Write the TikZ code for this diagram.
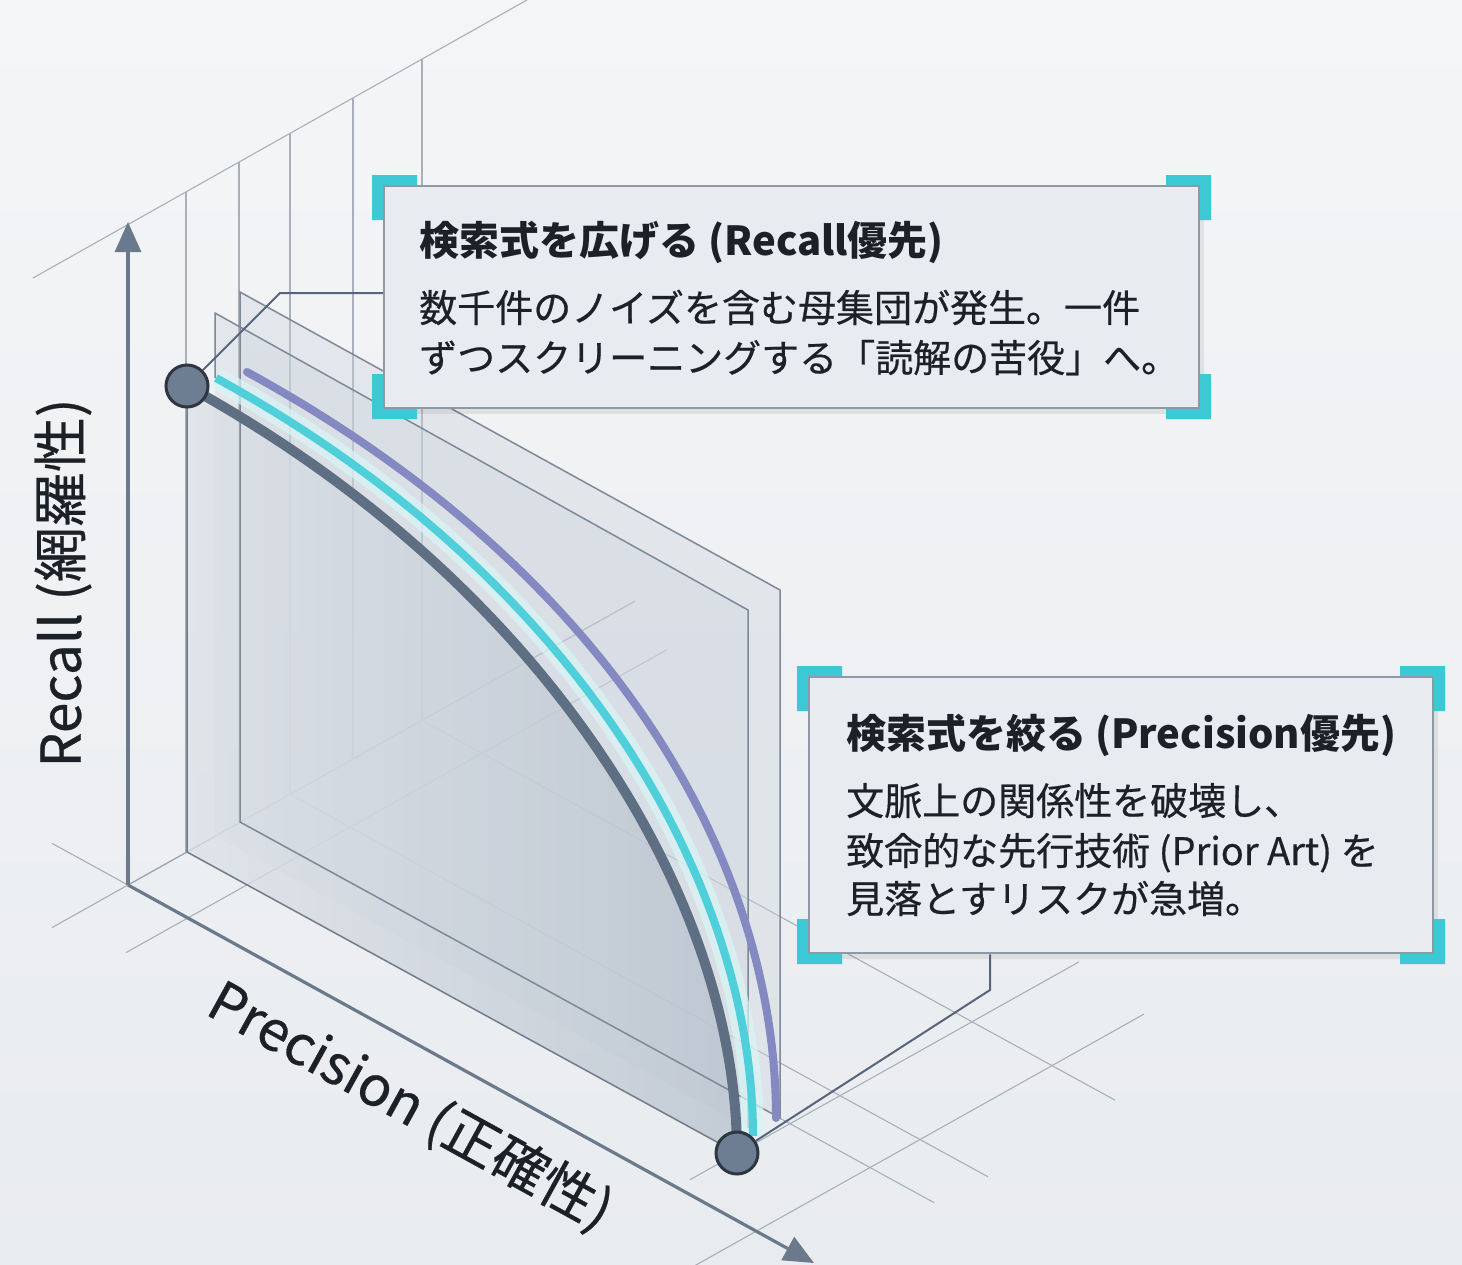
\documentclass[tikz,border=0pt]{standalone}
\usepackage{fontspec}
\setmainfont{Noto Sans CJK JP}
\newfontfamily\medfont[FakeBold=0.5]{Noto Sans CJK JP}
\usetikzlibrary{arrows.meta}
\definecolor{bgA}{HTML}{F4F5F7}
\definecolor{bgB}{HTML}{E9ECEF}
\definecolor{gridc}{HTML}{A7B0BA}
\definecolor{edgec}{HTML}{7D8998}
\definecolor{axisc}{HTML}{6A7A8C}
\definecolor{darkc}{HTML}{5E6F83}
\definecolor{cyanc}{HTML}{4ECFD9}
\definecolor{purc}{HTML}{8489C2}
\definecolor{dotf}{HTML}{6D7E92}
\definecolor{dotd}{HTML}{2D3641}
\definecolor{boxf}{HTML}{E8ECF0}
\definecolor{boxd}{HTML}{8E99A5}
\definecolor{brk}{HTML}{3CC8D5}
\definecolor{txt}{HTML}{1C2127}
\definecolor{leadc}{HTML}{56657A}
\definecolor{panf}{HTML}{CDD5DE}
\definecolor{panA1}{HTML}{DCE1E7}
\definecolor{panA2}{HTML}{B7C1CD}
\newcommand\cornerbr[4]{%
  \fill[brk] (#1,#2) -- ++({45*(#3)},0) -- ++(0,{11*(#4)}) -- ++({-34*(#3)},0)
    -- ++(0,{34*(#4)}) -- ++({-11*(#3)},0) -- cycle;}
\begin{document}
\begin{tikzpicture}[x=1pt,y=-1pt,
  gridline/.style={draw=gridc, line width=1.1pt},
  wallline/.style={draw=gridc!70!edgec, line width=1.3pt},
  paneledge/.style={draw=edgec, line width=1.5pt},
  axisline/.style={draw=axisc, line width=3.2pt, -{Triangle[length=30pt,width=26pt]}},
  dotnode/.style={circle, fill=dotf, draw=dotd, line width=3pt, minimum size=42pt, inner sep=0pt},
  leader/.style={draw=leadc, line width=2pt},
  boxnode/.style={draw=boxd, line width=2.5pt, fill=boxf, inner sep=0pt},
  titletext/.style={anchor=base west, inner sep=0pt, text=txt, font=\fontsize{40}{40}\selectfont\bfseries},
  bodytext/.style={anchor=base west, inner sep=0pt, text=txt, font=\medfont\fontsize{38}{38}\selectfont},
  axislabel/.style={inner sep=0pt, text=txt, font=\medfont\fontsize{55}{55}\selectfont},
]
\useasboundingbox (0,0) rectangle (1462,1264);
\shade[top color=bgA, bottom color=bgB] (0,0) rectangle (1462,1264);

% back wall
\draw[gridline] (33,278) -- (527,0);
\foreach \xx/\yt/\yb in {186/192/852, 239/162/823, 290/133/794, 353/98/759, 422/59/720}
  \draw[gridline] (\xx,\yt) -- (\xx,\yb);

% floor grid
\begin{scope}[shift={(128,885)}, x={(1pt,-0.548pt)}, y={(1pt,0.56pt)}]
  \draw[gridline] (0,-76) -- (0,0);
  \draw[wallline] (0,0) -- (0,507);
  \draw[gridline] (-76,0) -- (0,0);
  \draw[gridline] (60,-62) -- (60,479);
  \draw[gridline] (0,162) -- (698,162);
  \draw[gridline] (0,294) -- (693,294);
  \draw[gridline] (540,112) -- (694,112);
  \draw[gridline] (550,12) -- (550,401);
  \draw[gridline] (630,-72) -- (630,386);
\end{scope}

% panels
\fill[panf, opacity=0.38] (240,292) -- (780,590) -- (780,1118) -- (240,822) -- cycle;
\fill[panf, opacity=0.38] (215,313) -- (748,610) -- (748,1128) -- (215,836) -- cycle;
\shade[left color=panA1, right color=panA2, opacity=0.75]
  (187,386) .. controls (544,582) and (737,896) .. (737,1153) -- (187,852) -- cycle;
\draw[paneledge] (240,292) -- (780,590) -- (780,1118) -- (240,822) -- cycle;
\draw[paneledge] (215,378) -- (215,313) -- (748,610) -- (748,1128);
\draw[paneledge, draw=edgec!90!black] (187,386) -- (187,852) -- (737,1153);

% curves
\draw[line width=8pt, purc, line cap=round] (247,372) .. controls (612,572) and (776,860) .. (776,1118);
\draw[line width=22pt, cyanc!22!white, opacity=0.7] (216,378) .. controls (575,575) and (753,880) .. (753,1136);
\draw[line width=8pt, cyanc] (216,378) .. controls (575,575) and (753,880) .. (753,1136);
\draw[line width=10pt, darkc] (187,386) .. controls (544,582) and (737,896) .. (737,1153);

% axes
\coordinate (O) at (128,885);
\coordinate (ytip) at (128,222);
\coordinate (xtip) at (814,1263);
\draw[axisline] (O) -- (ytip);
\draw[axisline] (O) -- (xtip);

% dots
\node[dotnode] (d1) at (187,386) {};
\node[dotnode] (d2) at (737,1153) {};

% boxes
\fill[black, opacity=0.07] (389,192) rectangle (1204,414);
\fill[black, opacity=0.07] (814,683) rectangle (1438,959);
\cornerbr{372}{175}{1}{1}
\cornerbr{1211}{175}{-1}{1}
\cornerbr{372}{419}{1}{-1}
\cornerbr{1211}{419}{-1}{-1}
\cornerbr{797}{666}{1}{1}
\cornerbr{1445}{666}{-1}{1}
\cornerbr{797}{964}{1}{-1}
\cornerbr{1445}{964}{-1}{-1}
\node[boxnode, minimum width=815pt, minimum height=222pt] (box1) at (791.5,297) {};
\node[boxnode, minimum width=624pt, minimum height=276pt] (box2) at (1121,815) {};

% leaders
\coordinate (k1) at (280,293);
\coordinate (k2) at (990,990);
\draw[leader] (d1) -- (k1) -- (k1 -| box1.west);
\draw[leader] (d2) -- (k2) -- (k2 |- box2.south);

% texts
\node[titletext] (t1) at (419,255) {検索式を広げる (Recall優先)};
\node[bodytext] (b1a) at (419,322) {数千件のノイズを含む母集団が発生。一件};
\node[bodytext] (b1b) at (419,372) {ずつスクリーニングする「読解の苦役」へ。};
\node[titletext] (t2) at (846,748) {検索式を絞る (Precision優先)};
\node[bodytext] (b2a) at (846,815) {文脈上の関係性を破壊し、};
\node[bodytext] (b2b) at (846,865) {致命的な先行技術 (Prior Art) を};
\node[bodytext] (b2c) at (846,913) {見落とすリスクが急増。};

% axis labels
\node[axislabel, rotate=90] (rl) at (63,583) {Recall (網羅性)};
\node[axislabel, rotate=-28.9] (pl) at (410,1107) {Precision (正確性)};
\end{tikzpicture}
\end{document}
